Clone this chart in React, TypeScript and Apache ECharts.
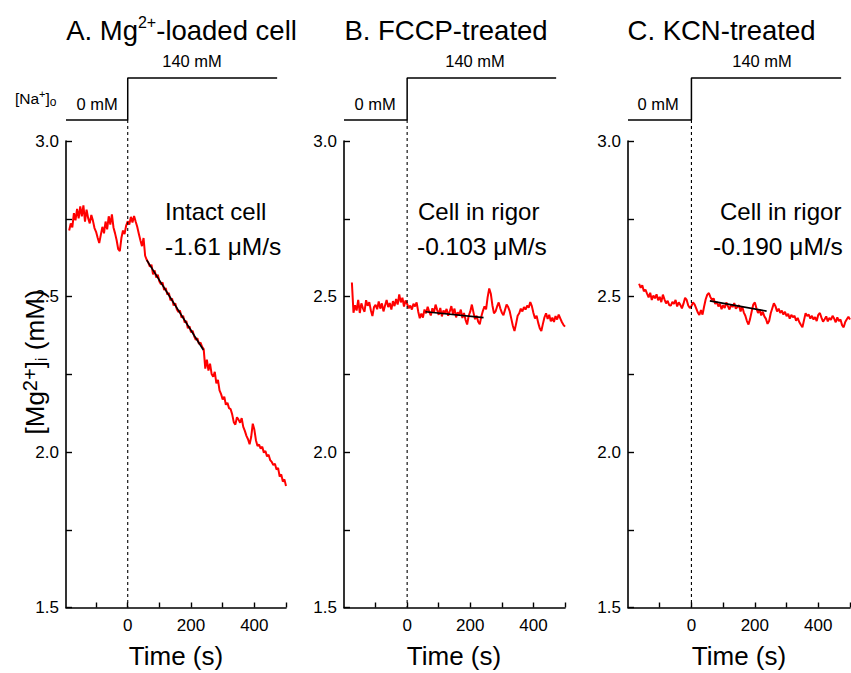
import React, { useEffect, useRef } from "react";
import * as echarts from "echarts";

// ---------------- data ----------------
const PANEL_TITLES = ["A. Mg", "B. FCCP-treated", "C. KCN-treated"];
const PANEL_NOTES = ["Intact cell", "Cell in rigor", "Cell in rigor"];
const PANEL_RATES = ["-1.61 \u03bcM/s", "-0.103 \u03bcM/s", "-0.190 \u03bcM/s"];
const X_MIN = [-195, -200, -200];
const X_MAX = 500;
const Y_MIN = 1.5;
const Y_MAX = 3.0;
const Y_LABELS = [1.5, 2.0, 2.5, 3.0];
const Y_TICKS = [1.5, 1.75, 2.0, 2.25, 2.5, 2.75, 3.0];
const X_LABELS = [0, 200, 400];
const X_TICKS = [-100, 0, 100, 200, 300, 400, 500];
const NA_LOW = 0; // mM
const NA_HIGH = 140; // mM
const NA_SWITCH_T = 0; // s
const NA_END_T = 472; // s
const DT = 5; // s between samples
const T0 = [-185, -175, -165];

const mgA = [
  2.712, 2.735, 2.722, 2.768, 2.745, 2.782, 2.751, 2.790, 2.758, 2.793,
  2.741, 2.779, 2.752, 2.735, 2.762, 2.744, 2.720, 2.708, 2.689, 2.672,
  2.698, 2.724, 2.703, 2.741, 2.716, 2.758, 2.731, 2.764, 2.722, 2.703,
  2.681, 2.652, 2.646, 2.688, 2.712, 2.701, 2.728, 2.742, 2.731, 2.756,
  2.738, 2.759, 2.741, 2.724, 2.702, 2.681, 2.662, 2.688, 2.631, 2.618,
  2.609, 2.596, 2.602, 2.571, 2.584, 2.561, 2.570, 2.548, 2.539, 2.545,
  2.521, 2.527, 2.506, 2.511, 2.488, 2.494, 2.471, 2.478, 2.459, 2.450,
  2.455, 2.432, 2.438, 2.416, 2.421, 2.398, 2.404, 2.385, 2.390, 2.372,
  2.361, 2.366, 2.347, 2.352, 2.338, 2.331, 2.268, 2.297, 2.262, 2.284,
  2.251, 2.242, 2.258, 2.221, 2.232, 2.198, 2.186, 2.169, 2.178, 2.152,
  2.158, 2.141, 2.138, 2.121, 2.096, 2.088, 2.112, 2.104, 2.094, 2.109,
  2.081, 2.068, 2.052, 2.041, 2.025, 2.048, 2.091, 2.072, 2.038, 2.019,
  2.024, 2.011, 2.017, 1.998, 2.003, 1.986, 1.991, 1.974, 1.968, 1.958,
  1.962, 1.944, 1.949, 1.921, 1.928, 1.905, 1.912, 1.891,
];

const mgB = [
  2.545, 2.448, 2.472, 2.455, 2.489, 2.447, 2.478, 2.462, 2.451, 2.488,
  2.470, 2.482, 2.456, 2.437, 2.466, 2.473, 2.459, 2.484, 2.461, 2.478,
  2.452, 2.471, 2.489, 2.466, 2.479, 2.458, 2.485, 2.469, 2.492, 2.474,
  2.507, 2.481, 2.496, 2.468, 2.487, 2.476, 2.462, 2.471, 2.458, 2.477,
  2.468, 2.481, 2.452, 2.430, 2.445, 2.432, 2.458, 2.446, 2.467, 2.451,
  2.439, 2.462, 2.448, 2.474, 2.457, 2.441, 2.463, 2.436, 2.455, 2.447,
  2.460, 2.438, 2.452, 2.469, 2.444, 2.461, 2.433, 2.449, 2.442, 2.458,
  2.431, 2.447, 2.425, 2.410, 2.438, 2.452, 2.474, 2.449, 2.427, 2.438,
  2.419, 2.411, 2.436, 2.454, 2.468, 2.459, 2.498, 2.526, 2.509, 2.472,
  2.446, 2.452, 2.468, 2.481, 2.462, 2.448, 2.440, 2.457, 2.474, 2.466,
  2.452, 2.428, 2.405, 2.389, 2.412, 2.438, 2.446, 2.461, 2.452, 2.466,
  2.458, 2.471, 2.464, 2.482, 2.469, 2.447, 2.429, 2.438, 2.416, 2.398,
  2.389, 2.412, 2.433, 2.446, 2.428, 2.441, 2.420, 2.432, 2.418, 2.437,
  2.426, 2.442, 2.430, 2.418, 2.409, 2.403,
];

const mgC = [
  2.541, 2.528, 2.536, 2.517, 2.522, 2.509, 2.497, 2.512, 2.489, 2.503,
  2.494, 2.507, 2.488, 2.499, 2.482, 2.506, 2.491, 2.478, 2.486, 2.472,
  2.471, 2.483, 2.476, 2.489, 2.468, 2.481, 2.473, 2.462, 2.477, 2.496,
  2.489, 2.471, 2.463, 2.469, 2.481, 2.475, 2.462, 2.449, 2.441, 2.456,
  2.442, 2.468, 2.491, 2.506, 2.511, 2.498, 2.489, 2.494, 2.476, 2.483,
  2.468, 2.477, 2.459, 2.472, 2.463, 2.481, 2.469, 2.458, 2.474, 2.466,
  2.479, 2.461, 2.466, 2.472, 2.452, 2.468, 2.449, 2.438, 2.421, 2.410,
  2.428, 2.452, 2.474, 2.481, 2.462, 2.447, 2.458, 2.439, 2.451, 2.436,
  2.428, 2.412, 2.421, 2.446, 2.462, 2.478, 2.469, 2.452, 2.461, 2.447,
  2.455, 2.442, 2.451, 2.437, 2.444, 2.429, 2.441, 2.433, 2.438, 2.422,
  2.431, 2.418, 2.409, 2.401, 2.424, 2.446, 2.437, 2.442, 2.429, 2.438,
  2.426, 2.434, 2.421, 2.441, 2.447, 2.432, 2.419, 2.427, 2.436, 2.420,
  2.431, 2.425, 2.438, 2.429, 2.417, 2.433, 2.421, 2.426, 2.408, 2.401,
  2.418, 2.427, 2.435, 2.426,
];

const MG = [mgA, mgB, mgC];

// linear fits: [t, value] at start and end of fitted window
const FIT_A = [[60, 2.617], [239, 2.328]];
const FIT_B = [[58, 2.451], [242, 2.432]];
const FIT_C = [[58, 2.486], [237, 2.453]];
const FITS = [FIT_A, FIT_B, FIT_C];

// ---------------- layout ----------------
const FONT = "'Liberation Sans', Arial, Helvetica, sans-serif";
const GRID_LEFT = [66, 344, 628];
const GRID_W = [220, 221, 222];
const GRID_TOP = 141;
const GRID_H = 466.5;
const STEP_TOP = 78;
const STEP_PX = 42; // px between 0 and 140 mM
const OV_H = GRID_TOP + GRID_H - STEP_TOP;
const OV_MIN = NA_HIGH - (OV_H * (NA_HIGH - NA_LOW)) / STEP_PX;

function buildOption() {
  const grid: any[] = [];
  const xAxis: any[] = [];
  const yAxis: any[] = [];
  const series: any[] = [];

  for (let p = 0; p < 3; p++) {
    grid.push({ left: GRID_LEFT[p], top: GRID_TOP, width: GRID_W[p], height: GRID_H, outerBoundsMode: "none" });
    grid.push({ left: GRID_LEFT[p], top: STEP_TOP, width: GRID_W[p], height: OV_H, outerBoundsMode: "none" });
    const gi = p * 2;
    xAxis.push({
      type: "value",
      gridIndex: gi,
      min: X_MIN[p],
      max: X_MAX,
      axisLine: { show: true, onZero: false, lineStyle: { color: "#000", width: 1.6 } },
      axisTick: { show: true, inside: true, length: 5, customValues: X_TICKS, lineStyle: { color: "#000", width: 1.4 } },
      axisLabel: { show: true, customValues: X_LABELS, color: "#000", fontSize: 17, fontFamily: FONT, margin: 9 },
      splitLine: { show: false },
      minorTick: { show: false },
    });
    yAxis.push({
      type: "value",
      gridIndex: gi,
      min: Y_MIN,
      max: Y_MAX,
      axisLine: { show: true, onZero: false, lineStyle: { color: "#000", width: 1.6 } },
      axisTick: { show: true, inside: true, length: 6, customValues: Y_TICKS, lineStyle: { color: "#000", width: 1.4 } },
      axisLabel: {
        show: true,
        customValues: Y_LABELS,
        formatter: (v: number) => v.toFixed(1),
        color: "#000",
        fontSize: 17,
        fontFamily: FONT,
        margin: 7,
      },
      splitLine: { show: false },
    });
    xAxis.push({ type: "value", gridIndex: gi + 1, min: X_MIN[p], max: X_MAX, show: false });
    yAxis.push({ type: "value", gridIndex: gi + 1, min: OV_MIN, max: NA_HIGH, show: false });

    const data = MG[p].map((v, i) => [T0[p] + i * DT, v]);
    series.push({
      type: "line",
      xAxisIndex: gi,
      yAxisIndex: gi,
      data,
      showSymbol: false,
      silent: true,
      lineStyle: { color: "#ff0000", width: 2 },
      z: 3,
    });
    series.push({
      type: "line",
      xAxisIndex: gi,
      yAxisIndex: gi,
      data: FITS[p],
      showSymbol: false,
      silent: true,
      lineStyle: { color: "#000", width: 1.6 },
      z: 4,
    });
    // [Na+]o step protocol
    series.push({
      type: "line",
      xAxisIndex: gi + 1,
      yAxisIndex: gi + 1,
      data: [
        [X_MIN[p], NA_LOW],
        [NA_SWITCH_T, NA_LOW],
        [NA_SWITCH_T, NA_HIGH],
        [NA_END_T, NA_HIGH],
      ],
      showSymbol: false,
      silent: true,
      clip: false,
      lineStyle: { color: "#000", width: 1.5 },
    });
    // dashed marker of the switch time
    series.push({
      type: "line",
      xAxisIndex: gi + 1,
      yAxisIndex: gi + 1,
      data: [
        [NA_SWITCH_T, NA_LOW],
        [NA_SWITCH_T, OV_MIN],
      ],
      showSymbol: false,
      silent: true,
      lineStyle: { color: "#000", width: 1.1, type: [3, 3] },
    });
  }

  const txt = (x: number, y: number, text: string, fontSize: number, align = "center", extra: any = {}) => ({
    type: "text",
    x,
    y,
    silent: true,
    style: { text, fill: "#000", fontSize, fontFamily: FONT, align, verticalAlign: "middle", ...extra },
  });

  const graphic: any[] = [];
  // titles
  graphic.push({
    type: "text",
    x: 181.5,
    y: 30,
    silent: true,
    style: {
      text: "{a|" + PANEL_TITLES[0] + "}{s|2+}{a|-loaded cell}",
      align: "center",
      verticalAlign: "middle",
      fill: "#000",
      rich: {
        a: { fontSize: 27.5, fontFamily: FONT, lineHeight: 32, fill: "#000" },
        s: { fontSize: 16, fontFamily: FONT, lineHeight: 17, verticalAlign: "top", fill: "#000" },
      },
    },
  });
  graphic.push(txt(446, 30, PANEL_TITLES[1], 27.5));
  graphic.push(txt(721.5, 30, PANEL_TITLES[2], 27.5));
  // Na labels
  const hiX = [192, 475, 762];
  const loX = [97, 375, 658];
  for (let p = 0; p < 3; p++) {
    graphic.push(txt(hiX[p], 61, NA_HIGH + " mM", 16.5));
    graphic.push(txt(loX[p], 104, NA_LOW + " mM", 16.5));
  }
  graphic.push({
    type: "text",
    x: 15,
    y: 98,
    silent: true,
    style: {
      text: "{a|[Na}{s|+}{a|]}{b|o}",
      align: "left",
      verticalAlign: "middle",
      fill: "#000",
      rich: {
        a: { fontSize: 15.5, fontFamily: FONT, lineHeight: 19, fill: "#000" },
        s: { fontSize: 11, fontFamily: FONT, lineHeight: 11, verticalAlign: "top", fill: "#000" },
        b: { fontSize: 12, fontFamily: FONT, lineHeight: 10, verticalAlign: "bottom", fill: "#000" },
      },
    },
  });
  // annotations
  const noteX = [165, 418, 720];
  const rateX = [165, 417, 713];
  for (let p = 0; p < 3; p++) {
    graphic.push(txt(noteX[p], 211, PANEL_NOTES[p], 24, "left"));
    graphic.push(txt(rateX[p], 246, PANEL_RATES[p], 24.5, "left"));
  }
  // axis titles
  const cx = [176, 454, 739];
  for (let p = 0; p < 3; p++) graphic.push(txt(cx[p], 656, "Time (s)", 26));
  graphic.push({
    type: "text",
    x: 35,
    y: 362,
    rotation: Math.PI / 2,
    silent: true,
    style: {
      text: "{a|[Mg}{s|2+}{a|]}{b|i}{a| (mM)}",
      align: "center",
      verticalAlign: "middle",
      fill: "#000",
      rich: {
        a: { fontSize: 26, fontFamily: FONT, lineHeight: 30, fill: "#000" },
        s: { fontSize: 20, fontFamily: FONT, lineHeight: 18, verticalAlign: "top", fill: "#000" },
        b: { fontSize: 17, fontFamily: FONT, lineHeight: 14, verticalAlign: "bottom", fill: "#000" },
      },
    },
  });

  return {
    animation: false,
    backgroundColor: "#ffffff",
    textStyle: { fontFamily: FONT },
    grid,
    xAxis,
    yAxis,
    series,
    graphic,
  };
}

export default function App() {
  const ref = useRef<HTMLDivElement>(null);
  useEffect(() => {
    if (!ref.current) return;
    const chart = echarts.init(ref.current, null, { renderer: "svg" });
    chart.setOption(buildOption() as any);
    return () => chart.dispose();
  }, []);
  return <div ref={ref} style={{ width: 851, height: 673, position: "absolute", left: 0, top: 0 }} />;
}
